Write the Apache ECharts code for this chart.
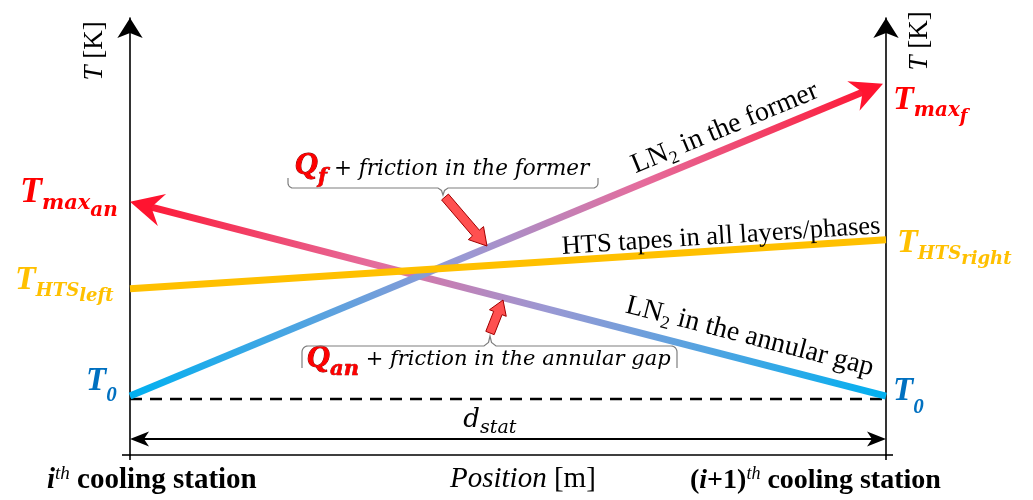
<!DOCTYPE html>
<html>
<head>
<meta charset="utf-8">
<script src="https://cdn.jsdelivr.net/npm/echarts@6/dist/echarts.min.js"></script>
<style>
  html, body { margin: 0; padding: 0; background: #fff; }
  #chart { width: 1033px; height: 500px; }
</style>
</head>
<body>
<div id="chart"></div>
<script>
// Positions along the section between two cooling stations (fraction of d_stat)
const stationPos = [0, 1];
const formerPos = [0, 0.996];
// Temperatures in schematic units
const lnFormerT = [13.8, 86.9];   // LN2 in the former, flowing i -> i+1
const lnAnnularT = [59.3, 13.8];  // LN2 in the annular gap, flowing i+1 -> i
const htsT = [38.9, 50.4];        // HTS tapes in all layers/phases
const t0LevelT = [13.1, 13.1];    // inlet temperature T0 reference (dashed)
const dStatT = [3.75, 3.75];      // level of the d_stat dimension arrow
const tRange = [0, 102.3];

const SERIF = '"Liberation Serif", "Times New Roman", serif';
const MATH = '"DejaVu Serif", serif';

// Build a rich-text string with sub/superscripts; every token is top aligned and
// shifted with padding so that its baseline sits b px below the first token's baseline.
function mathRich(parts) {
  const F0 = parts[0].size;
  const pts = parts.map(p => 0.84 * (F0 - p.size) + (p.b || 0));
  const minPt = Math.min(0, ...pts);
  const rich = {};
  let text = '';
  parts.forEach((p, i) => {
    const key = 'k' + i;
    const st = {
      font: (p.italic ? 'italic ' : 'normal ') + (p.bold ? 'bold ' : 'normal ') + p.size + 'px ' + (p.family || SERIF),
      fill: p.color || '#000',
      verticalAlign: 'top',
      padding: [pts[i] - minPt, 0, 0, 0]
    };
    if (p.stroke) { st.stroke = p.stroke; st.lineWidth = p.strokeWidth || 1; }
    rich[key] = st;
    text += '{' + key + '|' + p.t + '}';
  });
  return { text, rich, top: 0.84 * F0 - minPt };
}

function arrowHead(tip, ux, uy, L, W, notch) {
  const nx = -uy, ny = ux;
  return [
    [tip[0], tip[1]],
    [tip[0] - L * ux + W * nx, tip[1] - L * uy + W * ny],
    [tip[0] - (L - notch) * ux, tip[1] - (L - notch) * uy],
    [tip[0] - L * ux - W * nx, tip[1] - L * uy - W * ny]
  ];
}

// A straight line between two data points, with optional arrow heads and a label along it
function lineSeries(name, xs, ys, cfg) {
  return {
    type: 'custom',
    name: name,
    coordinateSystem: 'cartesian2d',
    xAxisIndex: 0,
    yAxisIndex: 0,
    silent: true,
    z: cfg.z || 2,
    data: [[xs[0], ys[0], xs[1], ys[1]]],
    renderItem: function (params, api) {
      const p0 = api.coord([api.value(0), api.value(1)]);
      const p1 = api.coord([api.value(2), api.value(3)]);
      const dx = p1[0] - p0[0], dy = p1[1] - p0[1];
      const len = Math.hypot(dx, dy);
      const ux = dx / len, uy = dy / len;
      const children = [];
      const ah = cfg.arrow;
      let a = p0.slice(), b = p1.slice();
      if (ah && (ah.at === 'start' || ah.at === 'both')) {
        const cut = ah.L - ah.notch - 1;
        a = [p0[0] + cut * ux, p0[1] + cut * uy];
      }
      if (ah && (ah.at === 'end' || ah.at === 'both')) {
        const cut = ah.L - ah.notch - 1;
        b = [p1[0] - cut * ux, p1[1] - cut * uy];
      }
      const stroke = cfg.stops
        ? new echarts.graphic.LinearGradient(p0[0], p0[1], p1[0], p1[1], cfg.stops, true)
        : cfg.color;
      children.push({
        type: 'line',
        shape: { x1: a[0], y1: a[1], x2: b[0], y2: b[1] },
        style: { stroke: stroke, lineWidth: cfg.width, lineDash: cfg.dash || null, lineCap: 'butt' }
      });
      if (ah && (ah.at === 'start' || ah.at === 'both')) {
        children.push({
          type: 'polygon',
          shape: { points: arrowHead(p0, -ux, -uy, ah.L, ah.W, ah.notch) },
          style: { fill: ah.color, stroke: null }
        });
      }
      if (ah && (ah.at === 'end' || ah.at === 'both')) {
        children.push({
          type: 'polygon',
          shape: { points: arrowHead(p1, ux, uy, ah.L, ah.W, ah.notch) },
          style: { fill: ah.color, stroke: null }
        });
      }
      if (cfg.label) {
        const lb = cfg.label;
        const m = mathRich(lb.parts);
        const nx = uy, ny = -ux; // normal pointing up the page
        const tx = p0[0] + lb.t * dx, ty = p0[1] + lb.t * dy;
        const d = lb.gap + m.top;
        children.push({
          type: 'text',
          x: tx + nx * d,
          y: ty + ny * d,
          rotation: Math.atan2(-dy, dx),
          style: { text: m.text, rich: m.rich, align: 'center', verticalAlign: 'top' }
        });
      }
      return { type: 'group', children: children };
    }
  };
}

const BLUE = '#00b0f0', LAV = '#9b98d3', PINK = '#e56c9c', RED = '#ff1430';
const LN_FONT = 28;

const series = [
  lineSeries('t0', stationPos, t0LevelT, { color: '#000', width: 2.5, dash: [12, 8], z: 1 }),
  lineSeries('dstat', stationPos, dStatT, {
    color: '#000', width: 2,
    arrow: { at: 'both', L: 19, W: 7.5, notch: 5, color: '#000' },
    label: {
      t: 0.476, gap: 10,
      parts: [
        { t: 'd', size: 26, italic: true, family: MATH },
        { t: 'stat', size: 19, italic: true, family: MATH, b: 6 }
      ]
    }
  }),
  lineSeries('annular', stationPos, lnAnnularT, {
    width: 7, z: 3,
    stops: [
      { offset: 0, color: RED }, { offset: 0.32, color: PINK },
      { offset: 0.55, color: LAV }, { offset: 1, color: BLUE }
    ],
    arrow: { at: 'start', L: 33, W: 16.5, notch: 11, color: RED },
    label: {
      t: 0.812, gap: 14,
      parts: [
        { t: 'LN', size: LN_FONT }, { t: '2', size: 18, b: 5 },
        { t: ' in the annular gap', size: LN_FONT }
      ]
    }
  }),
  lineSeries('former', formerPos, lnFormerT, {
    width: 7, z: 4,
    stops: [
      { offset: 0, color: BLUE }, { offset: 0.45, color: LAV },
      { offset: 0.68, color: PINK }, { offset: 1, color: RED }
    ],
    arrow: { at: 'end', L: 32, W: 16, notch: 10, color: RED },
    label: {
      t: 0.8, gap: 10,
      parts: [
        { t: 'LN', size: LN_FONT }, { t: '2', size: 18, b: 5 },
        { t: ' in the former', size: LN_FONT }
      ]
    }
  }),
  lineSeries('hts', stationPos, htsT, {
    color: '#ffc000', width: 7, z: 5,
    label: { t: 0.783, gap: 5, parts: [{ t: 'HTS tapes in all layers/phases', size: 26.5 }] }
  })
];

// Annotation text placed by left edge x and main baseline y
function mathLabel(x, baseY, parts) {
  const m = mathRich(parts);
  return {
    type: 'text', x: x, y: baseY - m.top, z: 100,
    style: { text: m.text, rich: m.rich, align: 'left', verticalAlign: 'top' }
  };
}

function bracePoints(x0, x1, y, endDy, tipX, tipDy, r) {
  const s = Math.sign(endDy);
  const pts = [[x0, y + endDy]];
  for (let k = 0; k <= 6; k++) {
    const q = k / 6 * Math.PI / 2;
    pts.push([x0 + r - r * Math.cos(q), y + s * r - s * r * Math.sin(q)]);
  }
  pts.push([tipX - r, y], [tipX - 1.5, y + tipDy * 0.35], [tipX, y + tipDy],
           [tipX + 1.5, y + tipDy * 0.35], [tipX + r, y]);
  for (let k = 0; k <= 6; k++) {
    const q = k / 6 * Math.PI / 2;
    pts.push([x1 - r + r * Math.sin(q), y + s * r - s * r * Math.cos(q)]);
  }
  pts.push([x1, y + endDy]);
  return pts;
}

function blockArrow(x0, y0, x1, y1, shaftW, headW, headL) {
  const dx = x1 - x0, dy = y1 - y0, len = Math.hypot(dx, dy);
  const ux = dx / len, uy = dy / len, nx = -uy, ny = ux;
  const bx = x1 - headL * ux, by = y1 - headL * uy;
  return [
    [x0 + nx * shaftW / 2, y0 + ny * shaftW / 2],
    [bx + nx * shaftW / 2, by + ny * shaftW / 2],
    [bx + nx * headW / 2, by + ny * headW / 2],
    [x1, y1],
    [bx - nx * headW / 2, by - ny * headW / 2],
    [bx - nx * shaftW / 2, by - ny * shaftW / 2],
    [x0 - nx * shaftW / 2, y0 - ny * shaftW / 2]
  ];
}

const TRED = '#ff0000', TYEL = '#ffc000', TBLUE = '#0070c0';
// bold-italic piece; the subscripts use the wider math face
const bi = (t, size, color, b, family) => ({ t, size, color, b, bold: true, italic: true, family });

const axisName = {
  i: { font: 'italic 27px ' + SERIF, fill: '#000' },
  r: { font: 'normal 27px ' + SERIF, fill: '#000' }
};

const graphic = [
  { type: 'text', x: 95, y: 51, rotation: Math.PI / 2, z: 100,
    style: { text: '{i|T}{r| [K]}', rich: axisName, align: 'center', verticalAlign: 'middle' } },
  { type: 'text', x: 920, y: 41, rotation: Math.PI / 2, z: 100,
    style: { text: '{i|T}{r| [K]}', rich: axisName, align: 'center', verticalAlign: 'middle' } },

  mathLabel(20, 205, [bi('T', 36, TRED), bi('max', 21, TRED, 6, MATH), bi('an', 20, TRED, 13, MATH)]),
  mathLabel(893, 112, [bi('T', 34, TRED), bi('max', 20, TRED, 6, MATH), bi('f', 18, TRED, 11, MATH)]),
  mathLabel(15, 292, [bi('T', 34, TYEL), bi('HTS', 18, TYEL, 5, MATH), bi('left', 18, TYEL, 10, MATH)]),
  mathLabel(897, 255, [bi('T', 34, TYEL), bi('HTS', 18, TYEL, 5, MATH), bi('right', 18, TYEL, 10, MATH)]),
  mathLabel(86, 393, [bi('T', 33, TBLUE), bi('0', 21, TBLUE, 10)]),
  mathLabel(893, 403, [bi('T', 33, TBLUE), bi('0', 21, TBLUE, 12)]),

  mathLabel(295, 177, [
    { t: 'Q', size: 32, bold: true, italic: true, color: TRED, stroke: '#8b0000', strokeWidth: 1 },
    { t: 'f', size: 21, bold: true, italic: true, family: MATH, color: TRED, stroke: '#8b0000', strokeWidth: 0.6, b: 8 },
    { t: ' + friction in the former', size: 21.5, italic: true, family: MATH, b: -1 }
  ]),
  mathLabel(307, 370, [
    { t: 'Q', size: 32, bold: true, italic: true, color: TRED, stroke: '#8b0000', strokeWidth: 1 },
    { t: 'an', size: 21, bold: true, italic: true, family: MATH, color: TRED, stroke: '#8b0000', strokeWidth: 0.6, b: 7 },
    { t: ' + friction in the annular gap', size: 21, italic: true, family: MATH, b: -3 }
  ]),
  { type: 'polyline', z: 100, shape: { points: bracePoints(288, 598, 188, -10, 443, 7, 5) },
    style: { fill: null, stroke: '#7f7f7f', lineWidth: 1.2 } },
  { type: 'polyline', z: 100, shape: { points: bracePoints(302, 677, 346, 22, 490, -10, 6) },
    style: { fill: null, stroke: '#7f7f7f', lineWidth: 1.2 } },
  { type: 'polygon', z: 100, shape: { points: blockArrow(445, 197, 487, 246, 9, 20, 17) },
    style: { fill: '#ff5050', stroke: '#a00000', lineWidth: 1 } },
  { type: 'polygon', z: 100, shape: { points: blockArrow(490, 333, 503, 300, 9, 18, 14) },
    style: { fill: '#ff5050', stroke: '#a00000', lineWidth: 1 } },

  mathLabel(450, 489, [
    { t: 'Position', size: 29, italic: true },
    { t: ' [m]', size: 29 }
  ]),
  mathLabel(47, 490, [
    { t: 'i', size: 29, bold: true, italic: true },
    { t: 'th', size: 19, italic: true, b: -10 },
    { t: ' cooling station', size: 29, bold: true }
  ]),
  mathLabel(690, 490, [
    { t: '(', size: 28, bold: true },
    { t: 'i', size: 28, bold: true, italic: true },
    { t: '+1)', size: 28, bold: true },
    { t: 'th', size: 18, italic: true, b: -10 },
    { t: ' cooling station', size: 28, bold: true }
  ]),
  { type: 'line', z: 50, shape: { x1: 122, y1: 455, x2: 131, y2: 455 }, style: { stroke: '#000', lineWidth: 1.6 } },
  { type: 'line', z: 50, shape: { x1: 885, y1: 455, x2: 893, y2: 455 }, style: { stroke: '#000', lineWidth: 1.6 } }
];

const vAxis = (position) => ({
  type: 'value', position: position, min: tRange[0], max: tRange[1],
  axisLine: { show: true, onZero: false, symbol: ['none', 'arrow'], symbolSize: [19, 20],
              lineStyle: { color: '#000', width: 1.6 } },
  axisTick: { show: false }, axisLabel: { show: false }, splitLine: { show: false }
});

const chart = echarts.init(document.getElementById('chart'), null, { renderer: 'canvas' });
chart.setOption({
  animation: false,
  backgroundColor: '#fff',
  grid: { left: 130, right: 147, top: 18, bottom: 45, containLabel: false, outerBoundsMode: 'none' },
  xAxis: {
    type: 'value', min: stationPos[0], max: stationPos[1], interval: 1,
    axisLine: { show: true, onZero: false, lineStyle: { color: '#000', width: 1.6 } },
    axisTick: { show: true, length: 5, lineStyle: { color: '#000', width: 1.6 } },
    axisLabel: { show: false }, splitLine: { show: false }
  },
  yAxis: [vAxis('left'), vAxis('right')],
  series: series,
  graphic: graphic
});
</script>
</body>
</html>
